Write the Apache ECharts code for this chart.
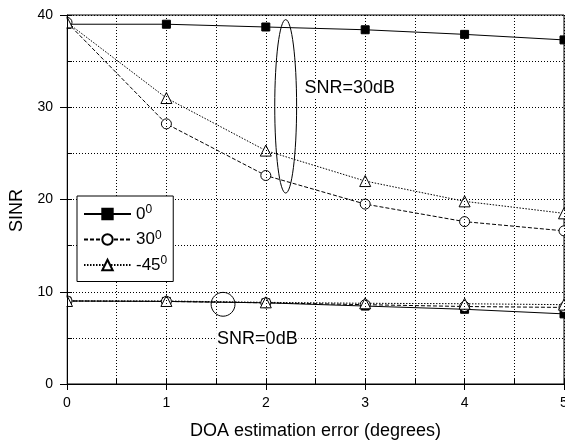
<!DOCTYPE html>
<html>
<head>
<meta charset="utf-8">
<script src="https://cdn.jsdelivr.net/npm/echarts@6/dist/echarts.min.js"></script>
<style>
  html, body { margin: 0; padding: 0; background: #fff; }
  #chart { width: 565px; height: 445px; }
</style>
</head>
<body>
<div id="chart"></div>
<script>
// values
const errDeg = [0, 1, 2, 3, 4, 5];
// SNR = 30dB group
const hi0 = [39.0, 39.0, 38.7, 38.4, 37.9, 37.3];
const hi30 = [39.2, 28.2, 22.6, 19.5, 17.6, 16.6];
const hiM45 = [39.2, 31.0, 25.3, 22.0, 19.8, 18.5];
// SNR = 0dB group
const lo0 = [9.0, 8.95, 8.8, 8.45, 8.1, 7.6];
const lo30 = [9.0, 8.95, 8.8, 8.6, 8.4, 8.3];
const loM45 = [9.0, 9.0, 8.85, 8.75, 8.7, 8.6];
const legendNames = ['0', '30', '-45'];
const noteLabels = ['SNR=30dB', 'SNR=0dB'];

const FONT = "'Liberation Sans', Arial, sans-serif";
const dotted = [1, 2];

function pairs(ys) {
  return errDeg.map((x, i) => [x, ys[i]]);
}

// one look per angle: symbol, fill, dash
const looks = {
  '0': { symbol: 'rect', size: 8, fill: '#000', dash: 'solid' },
  '30': { symbol: 'circle', size: 10, fill: '#fff', dash: [4, 2] },
  '-45': { symbol: 'triangle', size: 11, fill: '#fff', dash: [1.5, 1.5] }
};

function makeSeries(name, ys) {
  const l = looks[name];
  return {
    name: name,
    type: 'line',
    z: 1,
    data: pairs(ys),
    symbol: l.symbol,
    symbolSize: l.size,
    showAllSymbol: true,
    lineStyle: { color: '#000', width: 1, type: l.dash },
    itemStyle: { color: l.fill, borderColor: '#000', borderWidth: 1 },
    emphasis: { disabled: true },
    animation: false
  };
}

var myChart = echarts.init(document.getElementById('chart'));

const option = {
  animation: false,
  textStyle: { fontFamily: FONT },
  grid: {
    left: 67, top: 15, right: 1, bottom: 61,
    outerBoundsMode: 'none',
    show: true, borderColor: '#000', borderWidth: 1
  },
  legend: {
    data: legendNames,
    orient: 'vertical',
    left: 77, top: 196,
    padding: [8, 6, 8, 6],
    itemWidth: 47,
    itemHeight: 13,
    itemGap: 7,
    z: 8,
    backgroundColor: '#fff',
    borderColor: '#000',
    borderWidth: 1,
    formatter: name => '{n|' + name + '}{s|0}',
    textStyle: {
      rich: {
        n: { fontSize: 17, fontFamily: FONT, color: '#000', lineHeight: 20 },
        s: { fontSize: 12, fontFamily: FONT, color: '#000', verticalAlign: 'top', lineHeight: 20 }
      }
    }
  },
  xAxis: [{
    type: 'value', min: 0, max: 5, interval: 1, z: 5,
    name: 'DOA estimation error (degrees)',
    nameLocation: 'middle', nameGap: 38,
    nameTextStyle: { fontSize: 18, color: '#000', fontFamily: FONT },
    axisLine: { lineStyle: { color: '#000', width: 1 } },
    axisTick: { length: 6, lineStyle: { color: '#000' } },
    axisLabel: { fontSize: 14, color: '#000', margin: 12, fontFamily: FONT },
    splitLine: { show: true, lineStyle: { color: '#000', type: dotted } },
    minorTick: { show: false, splitNumber: 2 },
    minorSplitLine: { show: true, lineStyle: { color: '#000', type: dotted } }
  }, {
    type: 'value', min: 0, max: 5, interval: 1, position: 'bottom', z: 5,
    axisLine: { show: false },
    axisLabel: { show: false },
    axisTick: { show: true, inside: true, length: 5, lineStyle: { color: '#000' } },
    minorTick: { show: true, splitNumber: 2, length: 5, lineStyle: { color: '#000' } },
    splitLine: { show: false }
  }],
  yAxis: [{
    type: 'value', min: 0, max: 40, interval: 10, z: 5,
    name: 'SINR',
    nameLocation: 'middle', nameGap: 32,
    nameTextStyle: { fontSize: 18, color: '#000', fontFamily: FONT, padding: [0, 22, 0, 0] },
    axisLine: { show: true, lineStyle: { color: '#000', width: 1 } },
    axisTick: { show: true, length: 7, lineStyle: { color: '#000' } },
    axisLabel: { fontSize: 14, color: '#000', margin: 14, fontFamily: FONT },
    splitLine: { show: true, lineStyle: { color: '#000', type: dotted } },
    minorTick: { show: false, splitNumber: 2 },
    minorSplitLine: { show: true, lineStyle: { color: '#000', type: dotted } }
  }, {
    type: 'value', min: 0, max: 40, interval: 10, position: 'left', z: 5,
    axisLine: { show: false },
    axisLabel: { show: false },
    axisTick: { show: true, inside: true, length: 5, lineStyle: { color: '#000' } },
    minorTick: { show: true, splitNumber: 2, length: 5, lineStyle: { color: '#000' } },
    splitLine: { show: false }
  }],
  series: [
    makeSeries('0', hi0),
    makeSeries('30', hi30),
    makeSeries('-45', hiM45),
    makeSeries('0', lo0),
    makeSeries('30', lo30),
    makeSeries('-45', loM45)
  ]
};

myChart.setOption(option);

// annotations, placed in data space and converted to pixels
const px = (x, y) => myChart.convertToPixel({ gridIndex: 0 }, [x, y]);
function ellipse(cx, cy, rx, ry) {
  const c = px(cx, cy);
  const e = px(cx + rx, cy + ry);
  return {
    type: 'ellipse', z: 10,
    shape: { cx: c[0], cy: c[1], rx: Math.abs(e[0] - c[0]), ry: Math.abs(c[1] - e[1]) },
    style: { fill: null, stroke: '#000', lineWidth: 1 }
  };
}
function note(text, x, y) {
  const p = px(x, y);
  return {
    type: 'text', z: 11, x: p[0], y: p[1],
    style: {
      text: text, fontSize: 18, fontFamily: FONT, fill: '#000',
      verticalAlign: 'middle', align: 'left',
      backgroundColor: '#fff', padding: [0, 1]
    }
  };
}
const snr30Ring = ellipse(2.2, 30.1, 0.11, 9.4);
const snr0Ring = ellipse(1.57, 8.64, 0.12, 1.3);
snr0Ring.shape.rx = snr0Ring.shape.ry = Math.min(snr0Ring.shape.rx, snr0Ring.shape.ry);

// white strip left of the y axis: markers at x = 0 show only their right half
const origin = px(0, 40);
const leftMask = {
  type: 'rect', z: 3, silent: true,
  shape: { x: 0, y: 0, width: origin[0] - 0.5, height: 445 },
  style: { fill: '#fff' }
};

myChart.setOption({
  graphic: {
    z: 3,
    elements: [
      leftMask,
      snr30Ring,
      snr0Ring,
      note(noteLabels[0], 2.38, 32.1),
      note(noteLabels[1], 1.5, 4.88)
    ]
  }
});
</script>
</body>
</html>
